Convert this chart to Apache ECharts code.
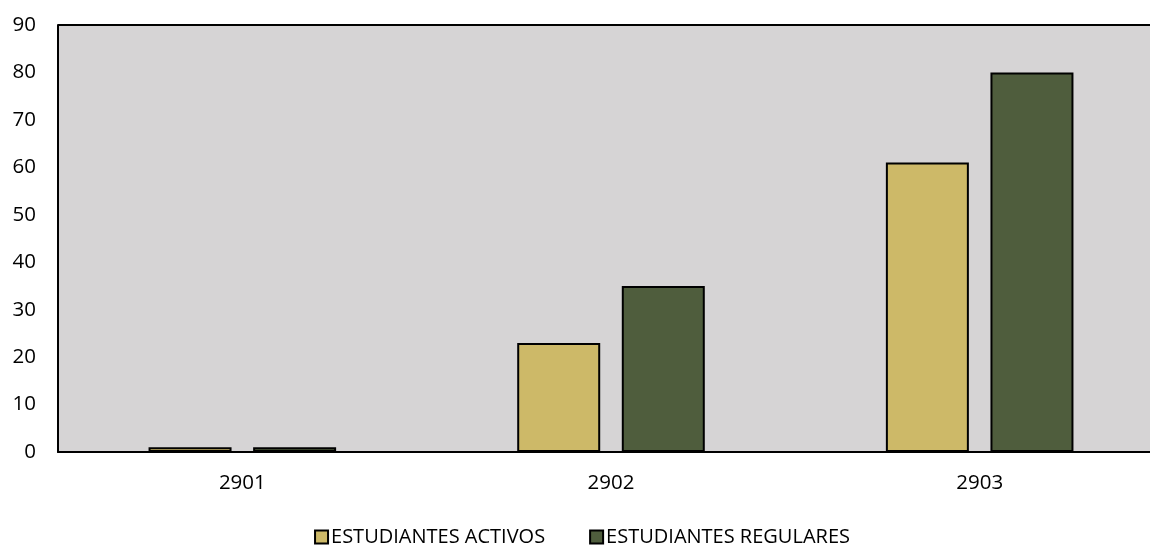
<!DOCTYPE html>
<html>
<head>
<meta charset="utf-8">
<script src="https://cdn.jsdelivr.net/npm/echarts@6/dist/echarts.min.js"></script>
<style>
  html, body { margin: 0; padding: 0; background: #fff; overflow: hidden; }
  #chart { width: 1164px; height: 545px; }
</style>
</head>
<body>
<div id="chart"></div>
<script>
const categories = ['2901', '2902', '2903'];
const activos = [1, 23, 61];
const regulares = [1, 35, 80];
const yTicks = { min: 0, max: 90, interval: 10 };

// the original plot runs a bit past the right edge, so the canvas is wider than the window
const myChart = echarts.init(document.getElementById('chart'));
const fontFamily = '"Open Sans", sans-serif';

const option = {
    animation: false,
    textStyle: { fontFamily: fontFamily },
    grid: {
        left: 58,
        top: 25,
        right: 0,
        bottom: 93,
        show: true,
        backgroundColor: '#d6d4d5',
        borderWidth: 0
    },
    legend: {
        top: 522,
        left: 'center',
        itemWidth: 13,
        itemHeight: 13,
        itemGap: 44,
        icon: 'rect',
        textStyle: { fontSize: 20, color: '#000', fontFamily: fontFamily, padding: [0, 0, 0, -2] },
        data: ['ESTUDIANTES ACTIVOS', 'ESTUDIANTES REGULARES']
    },
    xAxis: {
        type: 'category',
        data: categories,
        axisLine: { lineStyle: { color: '#000', width: 2 } },
        axisTick: { show: false },
        axisLabel: { fontSize: 20.5, color: '#000', margin: 21 }
    },
    yAxis: {
        type: 'value',
        min: yTicks.min,
        max: yTicks.max,
        interval: yTicks.interval,
        axisLine: { show: true, lineStyle: { color: '#000', width: 2 } },
        axisTick: { show: false },
        splitLine: { show: false },
        axisLabel: { fontSize: 20.5, color: '#000', margin: 22 }
    },
    series: [
        {
            name: 'ESTUDIANTES ACTIVOS',
            type: 'bar',
            data: activos,
            barWidth: 83,
            barGap: '26%',
            itemStyle: { color: '#cdb968', borderColor: '#000', borderWidth: 2 }
        },
        {
            name: 'ESTUDIANTES REGULARES',
            type: 'bar',
            data: regulares,
            barWidth: 83,
            itemStyle: { color: '#4f5d3d', borderColor: '#000', borderWidth: 2 }
        }
    ],
    graphic: [
        {
            type: 'line',
            shape: { x1: 58, y1: 25, x2: 1164, y2: 25 },
            style: { stroke: '#000', lineWidth: 2 }
        }
    ]
};

myChart.setOption(option);
</script>
</body>
</html>
